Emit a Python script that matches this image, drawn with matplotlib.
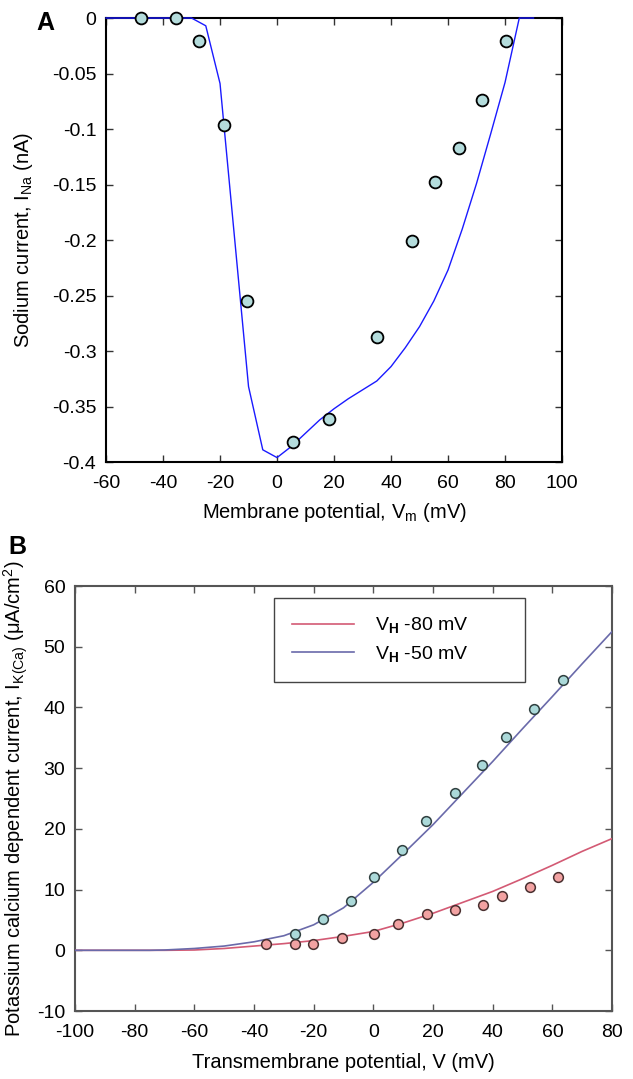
import numpy as np
import matplotlib
matplotlib.use('Agg')
import matplotlib.pyplot as plt

plt.rcParams['font.family'] = ['Liberation Sans', 'DejaVu Sans']
plt.rcParams['mathtext.fontset'] = 'custom'
plt.rcParams['mathtext.rm'] = 'Liberation Sans'
plt.rcParams['mathtext.it'] = 'Liberation Sans:italic'
plt.rcParams['mathtext.bf'] = 'Liberation Sans:bold'
plt.rcParams['axes.unicode_minus'] = False

# Panel A: sodium current, measured points and model line
na_v_pts = [-47.7, -35.4, -27.4, -18.6, -10.6, 5.7, 18.4, 34.9, 47.4, 55.4, 64.0, 71.9, 80.4]
na_i_pts = [0.0, 0.0, -0.021, -0.096, -0.255, -0.382, -0.361, -0.287, -0.201, -0.148, -0.117, -0.074, -0.021]

na_v_fit = [-60, -30, -25, -20, -10, -5, 0, 5, 10, 15, 20, 25, 30, 35, 40, 45, 50,
            55, 60, 65, 70, 75, 80, 85, 90]
na_i_fit = [0.0, 0.0, -0.007, -0.059, -0.332, -0.389, -0.396, -0.386, -0.374, -0.362,
            -0.352, -0.343, -0.335, -0.327, -0.314, -0.297, -0.278, -0.255, -0.227,
            -0.190, -0.149, -0.104, -0.058, 0.0, 0.0]

a_xticks = [-60, -40, -20, 0, 20, 40, 60, 80, 100]
a_yticks = [0, -0.05, -0.1, -0.15, -0.2, -0.25, -0.3, -0.35, -0.4]
a_yticklabels = ['0', '-0.05', '-0.1', '-0.15', '-0.2', '-0.25', '-0.3', '-0.35', '-0.4']

# Panel B: K(Ca) current at two holding potentials
k50_v_pts = [-26.3, -17.0, -7.6, 0.3, 9.6, 17.6, 27.2, 36.5, 44.5, 53.8, 63.4]
k50_i_pts = [2.75, 5.1, 8.1, 12.0, 16.6, 21.3, 25.9, 30.6, 35.2, 39.8, 44.5]
k80_v_pts = [-35.9, -26.3, -20.1, -10.6, 0.3, 8.3, 17.9, 27.2, 36.7, 43.1, 52.6, 61.9]
k80_i_pts = [1.1, 1.1, 1.1, 2.0, 2.75, 4.3, 5.9, 6.6, 7.4, 8.9, 10.4, 12.0]

k_v_fit = [-100, -90, -80, -75, -70, -60, -50, -40, -30, -20, -10, 0, 10, 20, 30, 40, 50, 60, 70, 80]
k50_i_fit = [0.0, 0.0, 0.0, 0.0, 0.05, 0.3, 0.7, 1.4, 2.4, 4.2, 7.0, 11.2, 15.9, 20.7,
             25.9, 31.1, 36.5, 41.8, 47.2, 52.5]
k80_i_fit = [0.0, 0.0, 0.0, 0.0, 0.0, 0.05, 0.3, 0.7, 1.1, 1.6, 2.3, 3.1, 4.5, 6.1,
             7.9, 9.7, 11.8, 14.0, 16.3, 18.4]

b_xticks = [-100, -80, -60, -40, -20, 0, 20, 40, 60, 80]
b_yticks = [-10, 0, 10, 20, 30, 40, 50, 60]

fig = plt.figure(figsize=(6.33, 10.79), dpi=100)

# ---- Panel A
axA = fig.add_axes([0.1675, 0.5718, 0.7204, 0.4115])
axA.plot(na_v_fit, na_i_fit, color='#1a1aff', lw=1.0, zorder=3, clip_on=False)
axA.plot(na_v_pts, na_i_pts, 'o', ms=8.5, mfc='#b4dcdc', mec='black', mew=1.3,
         zorder=4, clip_on=False)
axA.set_xlim(-60, 100)
axA.set_ylim(-0.4, 0)
axA.set_xticks(a_xticks)
axA.set_yticks(a_yticks)
axA.set_yticklabels(a_yticklabels)
axA.tick_params(direction='in', top=True, right=True, length=5, width=1,
                labelsize=14, color='#333333')
axA.tick_params(axis='x', pad=9)
axA.tick_params(axis='y', pad=7)
for s in axA.spines.values():
    s.set_linewidth(1.5)
axA.set_xlabel(r'Membrane potential, V$_{\mathrm{m}}$ (mV)', fontsize=14.5, labelpad=7)
axA.set_ylabel(r'Sodium current, I$_{\mathrm{Na}}$ (nA)', fontsize=14.5, labelpad=12)
fig.text(0.071, 0.979, 'A', fontsize=18, fontweight='bold', ha='center', va='center')

# ---- Panel B
axB = fig.add_axes([0.1185, 0.0630, 0.8484, 0.3939])
lr, = axB.plot(k_v_fit, k80_i_fit, color='#d35a74', lw=1.2, zorder=3)
lb, = axB.plot(k_v_fit, k50_i_fit, color='#6a6aaa', lw=1.2, zorder=3)
axB.plot(k80_v_pts, k80_i_pts, 'o', ms=7, mfc='#f2a2a2', mec='#4a3030', mew=1.1, zorder=4)
axB.plot(k50_v_pts, k50_i_pts, 'o', ms=7, mfc='#abd9d9', mec='#304040', mew=1.1, zorder=4)
axB.set_xlim(-100, 80)
axB.set_ylim(-10, 60)
axB.set_xticks(b_xticks)
axB.set_yticks(b_yticks)
axB.tick_params(direction='in', top=True, right=True, length=5, width=1,
                labelsize=14, color='#555555')
axB.tick_params(axis='x', pad=9)
axB.tick_params(axis='y', pad=7)
for s in axB.spines.values():
    s.set_linewidth(1.5)
    s.set_color('#555555')
axB.set_xlabel('Transmembrane potential, V (mV)', fontsize=14.5, labelpad=9)
axB.set_ylabel(r'Potassium calcium dependent current, I$_{\mathrm{K(Ca)}}$ ($\mathrm{\mu}$A/cm$^{2}$)',
               fontsize=14.5, labelpad=5)
leg = axB.legend([lr, lb], [r'V$_{\mathbf{H}}$ -80 mV', r'V$_{\mathbf{H}}$ -50 mV'],
                 loc='upper left', bbox_to_anchor=(0.371, 0.772, 0.467, 0.2),
                 mode='expand', fancybox=False, framealpha=1, edgecolor='#444444',
                 fontsize=14, handlelength=3.2, handletextpad=1.1,
                 borderpad=0.9, labelspacing=0.45, borderaxespad=0)
leg.get_frame().set_linewidth(1.0)
fig.text(0.027, 0.493, 'B', fontsize=18, fontweight='bold', ha='center', va='center')

fig.savefig('out.png', dpi=100)
